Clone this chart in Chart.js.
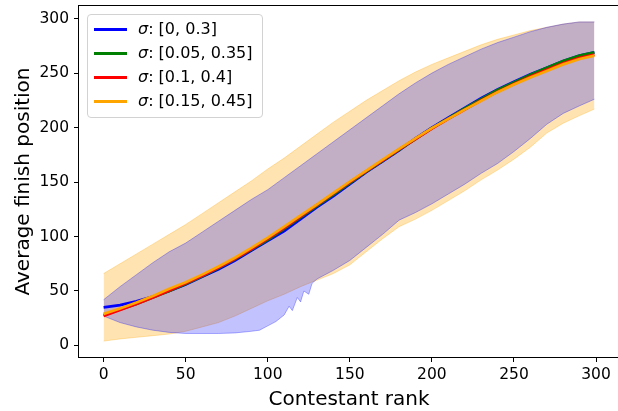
<!DOCTYPE html>
<html><head><meta charset="utf-8">
<script src="https://cdn.jsdelivr.net/npm/chart.js@4.4.0/dist/chart.umd.min.js"></script>
<style>
html,body{margin:0;padding:0;overflow:hidden;background:#fff;}
#wrap{position:relative;width:622px;height:411px;}
#legend{position:absolute;left:87px;top:14px;width:176px;height:104px;border:1px solid #d2d2d2;border-radius:4px;background:rgba(255,255,255,0.8);font-family:"DejaVu Sans";font-size:16px;color:#000;box-sizing:border-box;}
.row{position:absolute;left:0;height:24px;width:100%;}
.sw{position:absolute;left:6px;width:33px;height:3px;top:11px;}
.tx{position:absolute;left:50px;top:2px;white-space:nowrap;line-height:20px;}
</style></head>
<body>
<div id="wrap"><canvas id="c"></canvas><div id="legend"></div></div>
<script>
const xTitle = "Contestant rank";
const yTitle = "Average finish position";
const xTicks = [0, 50, 100, 150, 200, 250, 300];
const yTicks = [0, 50, 100, 150, 200, 250, 300];

const seriesNames = ["[0, 0.3]", "[0.05, 0.35]", "[0.1, 0.4]", "[0.15, 0.45]"];
const seriesColors = ["#0000ff", "#008000", "#ff0000", "#ffa500"];

const ranks = [0,10,20,30,40,50,60,70,80,90,100,110,120,130,140,150,160,170,180,190,200,210,220,230,240,250,260,270,280,290,299];

const meanBlue   = [35,37,40.5,45,50,56,63,70,78,87,96,105,116,127,137,148,159,169,179,190,200,209,218,227,235,242,249,255,261,266,269];
const meanGreen  = [28,33,38,44,50,56.5,63.5,71,79,88,97,107,117.5,128,138.5,149,159.5,169.5,179.5,189.5,199.5,208.5,217.5,226,234.5,241.5,248.5,255,261,266,269];
const meanRed    = [27,32.5,38,44,50.5,57,64,71.5,79.5,88.5,98,108,118.5,129,139.5,150,160,170,180,189.5,199,208,216.5,225,233,240,247,253,259,264,267];
const meanOrange = [29,34,39.5,45.5,52,58,65,72.5,80.5,89.5,99,109,119.5,129.5,140,150.5,160.5,170.5,180.5,190,199.5,208,216.5,224.5,232.5,239.5,246,252,258,263,266];

const blueUpper   = [42,54,65,76,86,94,104,114,124,134,143,154,165,176,187,198,209,220,231,241,250,258,265,272,278,283,288,292,295,297,297];
const orangeUpper = [66,75,84,93,102,111,121,131,141,151,162,172,183,194,205,215,225,234,243,251,258,264,270,276,281,285,289,292,295,297,297];
const orangeLower = [4,6,7.5,9,10.5,13,17,21,27,34,41,47,54,60,66,74,86,98,109,116,124,133,142,152,161,171,182,195,204,211,217];

const blueLowerRanks = [0,10,20,30,40,50,60,70,80,90,95,100,105,110,113,115,118,120,122,125,127,130,140,150,160,170,180,190,200,210,220,230,240,250,260,270,280,290,299];
const blueLower      = [27,21,17,14,12,11,11,11,11.5,13,14,18,22,28,36,32,44,40,50,47,57,61,69,78,90,102,115,122,130,139,148,158,167,178,190,203,213,220,226];

function pts(xs, ys){ return xs.map((x,i)=>({x:x, y:ys[i]})); }

const means = [meanBlue, meanGreen, meanRed, meanOrange];

const datasets = [
  {label:'blueUpper', data:pts(ranks, blueUpper), borderColor:'rgba(0,0,255,0.3)', borderWidth:1, backgroundColor:'rgba(0,0,255,0.24)', fill:'+1', order:5},
  {label:'blueLower', data:pts(blueLowerRanks, blueLower), borderColor:'rgba(0,0,255,0.3)', borderWidth:1, fill:false, order:5},
  {label:'orangeUpper', data:pts(ranks, orangeUpper), borderColor:'rgba(255,165,0,0.3)', borderWidth:1, backgroundColor:'rgba(255,165,0,0.3)', fill:'+1', order:6},
  {label:'orangeLower', data:pts(ranks, orangeLower), borderColor:'rgba(255,165,0,0.3)', borderWidth:1, fill:false, order:6}
];
means.forEach((m, i) => {
  datasets.push({label:seriesNames[i], data:pts(ranks, m), borderColor:seriesColors[i], borderWidth:2.7, fill:false, order:3 - i});
});

const frame = {id:'frame', afterDatasetsDraw(c){
  const {ctx, chartArea:a} = c;
  ctx.save(); ctx.strokeStyle='#000'; ctx.lineWidth=1;
  ctx.strokeRect(Math.round(a.left)-0.5, Math.round(a.top)-0.5, Math.round(a.right-a.left)+1, Math.round(a.bottom-a.top)+1);
  ctx.restore();
}};

const tickFont = {family:'DejaVu Sans', size:15.5};
const titleFont = {family:'DejaVu Sans', size:20, lineHeight:1};

new Chart(document.getElementById('c'), {
  type:'line',
  data:{datasets},
  plugins:[frame],
  options:{
    responsive:true, maintainAspectRatio:false, animation:false,
    layout:{padding:{left:0, top:6, right:3, bottom:0}},
    plugins:{legend:{display:false}, tooltip:{enabled:false}},
    elements:{point:{radius:0}, line:{tension:0}},
    scales:{
      x:{type:'linear', min:-15, max:314,
        afterBuildTicks:s=>{s.ticks = xTicks.map(v=>({value:v}));},
        afterFit:s=>{s.height = 54; s.paddingLeft = 0; s.paddingRight = 0;},
        grid:{drawOnChartArea:false, drawTicks:true, tickLength:5, color:'#000', tickWidth:1},
        border:{display:false},
        ticks:{font:tickFont, color:'#000', padding:4, maxRotation:0, autoSkip:false},
        title:{display:true, text:xTitle, font:titleFont, color:'#000', padding:{top:0, bottom:1}}
      },
      y:{type:'linear', min:-10.6, max:311.6,
        afterBuildTicks:s=>{s.ticks = yTicks.map(v=>({value:v}));},
        afterFit:s=>{s.width = 79; s.paddingTop = 0; s.paddingBottom = 0;},
        grid:{drawOnChartArea:false, drawTicks:true, tickLength:5, color:'#000', tickWidth:1},
        border:{display:false},
        ticks:{font:tickFont, color:'#000', padding:5, autoSkip:false},
        title:{display:true, text:yTitle, font:titleFont, color:'#000', padding:{top:14, bottom:0}}
      }
    }
  }
});

const lg = document.getElementById('legend');
seriesNames.forEach((n, i) => {
  const r = document.createElement('div'); r.className='row'; r.style.top = (2 + i*24) + 'px';
  const sw = document.createElement('div'); sw.className='sw'; sw.style.background = seriesColors[i];
  const tx = document.createElement('div'); tx.className='tx';
  tx.innerHTML = '<i>\u03c3</i>: ' + n;
  r.appendChild(sw); r.appendChild(tx); lg.appendChild(r);
});
</script>
</body></html>
